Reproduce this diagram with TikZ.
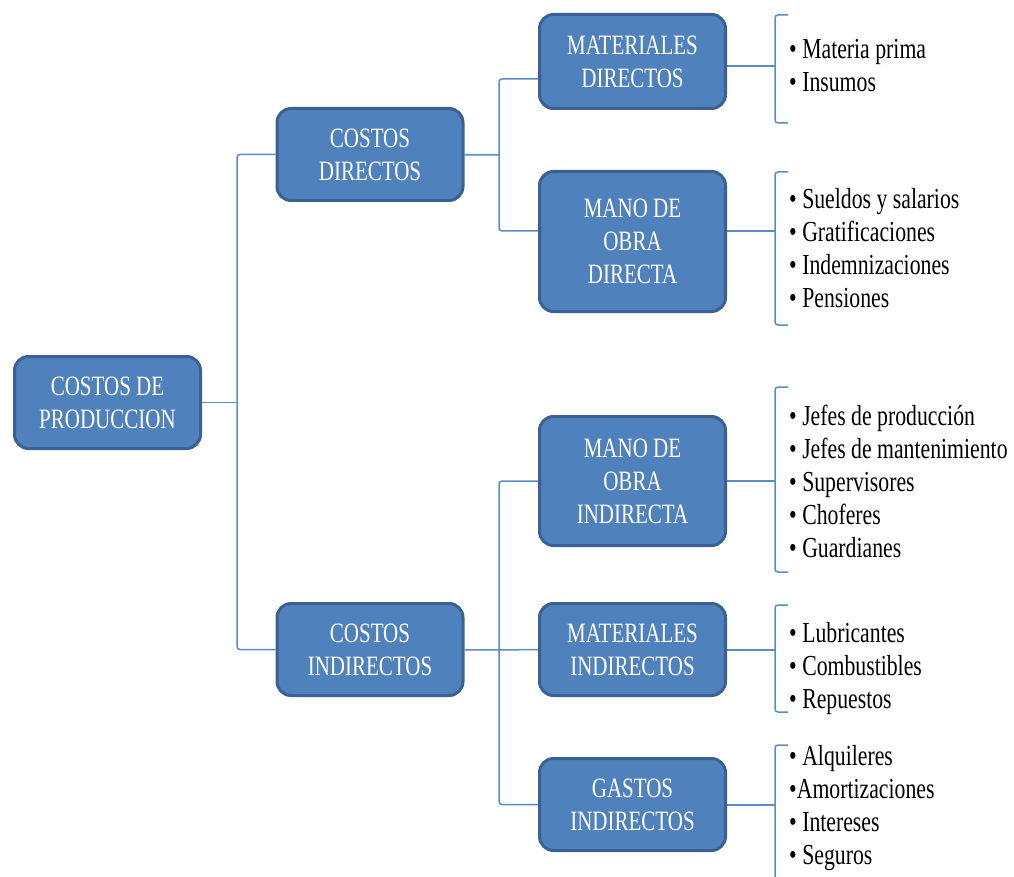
\documentclass[tikz,border=0pt]{standalone}
\usepackage{fontspec}
\setmainfont[FakeStretch=0.75]{Liberation Serif}
\definecolor{boxblue}{HTML}{4F81BD}
\definecolor{boxedge}{HTML}{3A6190}
\definecolor{linkblue}{HTML}{5B8BC9}
\tikzset{
  costbox/.style={draw=boxedge, line width=3pt, fill=boxblue, rounded corners=14pt,
    text=white, align=center, minimum width=186pt, minimum height=92pt, inner sep=0pt,
    font=\fontsize{28}{33}\selectfont},
  itemlist/.style={anchor=west, align=left, inner sep=0pt, font=\fontsize{29}{33}\selectfont},
  link/.style={draw=linkblue, line width=1.5pt, rounded corners=3pt}
}
\begin{document}
\begin{tikzpicture}[x=1pt,y=-1pt]
\useasboundingbox (0,0) rectangle (1014,877);
\node[costbox] (prod) at (107.5,402.5) {COSTOS DE\\PRODUCCION};
\node[costbox] (cd) at (370,154.5) {COSTOS\\DIRECTOS};
\node[costbox] (ci) at (370,649.5) {COSTOS\\INDIRECTOS};
\node[costbox, minimum height=94pt] (md) at (632.5,61.5) {MATERIALES\\DIRECTOS};
\node[costbox, minimum height=140pt] (mod) at (632.5,241.5) {MANO DE\\OBRA\\DIRECTA};
\node[costbox, minimum height=129pt] (moi) at (632.5,481) {MANO DE\\OBRA\\INDIRECTA};
\node[costbox] (mi) at (632.5,649.5) {MATERIALES\\INDIRECTOS};
\node[costbox] (gi) at (632.5,804.5) {GASTOS\\INDIRECTOS};

\coordinate (pfork) at (237,402.5);
\draw[link] (prod) -- (pfork);
\draw[link] (cd.west) -| (pfork) |- (ci.west);
\coordinate (dfork) at (499,155);
\coordinate (mdlvl) at (0,79);
\coordinate (modlvl) at (0,231);
\draw[link] (cd) -- (dfork);
\draw[link] (md.west |- mdlvl) -| (dfork) |- (mod.west |- modlvl);
\coordinate (ifork) at (499,650);
\draw[link] (ci) -- (ifork);
\draw[link] (moi.west) -| (ifork) |- (gi.west);
\draw[link] (mi.west) -- (ifork);

\node[itemlist] (mdlist) at (789,65.5) {\textbullet{} Materia prima\\\textbullet{} Insumos};
\node[itemlist] (modlist) at (789,248.5) {\textbullet{} Sueldos y salarios\\\textbullet{} Gratificaciones\\\textbullet{} Indemnizaciones\\\textbullet{} Pensiones};
\node[itemlist] (moilist) at (789,481.5) {\textbullet{} Jefes de producción\\\textbullet{} Jefes de mantenimiento\\\textbullet{} Supervisores\\\textbullet{} Choferes\\\textbullet{} Guardianes};
\node[itemlist] (milist) at (789,669) {\textbullet{} Lubricantes\\\textbullet{} Combustibles\\\textbullet{} Repuestos};
\node[itemlist] (gilist) at (789,808) {\textbullet{} Alquileres\\\textbullet{}Amortizaciones\\\textbullet{} Intereses\\\textbullet{} Seguros};

\coordinate (mdbr) at (775,66);
\draw[link] (md.east |- mdbr) -- (mdbr);
\draw[link] (788,15) -| (mdbr) |- (788,123);
\coordinate (modbr) at (775,231);
\draw[link] (mod.east |- modbr) -- (modbr);
\draw[link] (788,172) -| (modbr) |- (788,325);
\coordinate (moibr) at (775,481);
\draw[link] (moi.east |- moibr) -- (moibr);
\draw[link] (788,387) -| (moibr) |- (788,572);
\coordinate (mibr) at (775,650);
\draw[link] (mi.east |- mibr) -- (mibr);
\draw[link] (788,605) -| (mibr) |- (788,712);
\coordinate (gibr) at (775,805);
\draw[link] (gi.east |- gibr) -- (gibr);
\draw[link] (788,745) -| (gibr) -- (775,877);
\end{tikzpicture}
\end{document}
